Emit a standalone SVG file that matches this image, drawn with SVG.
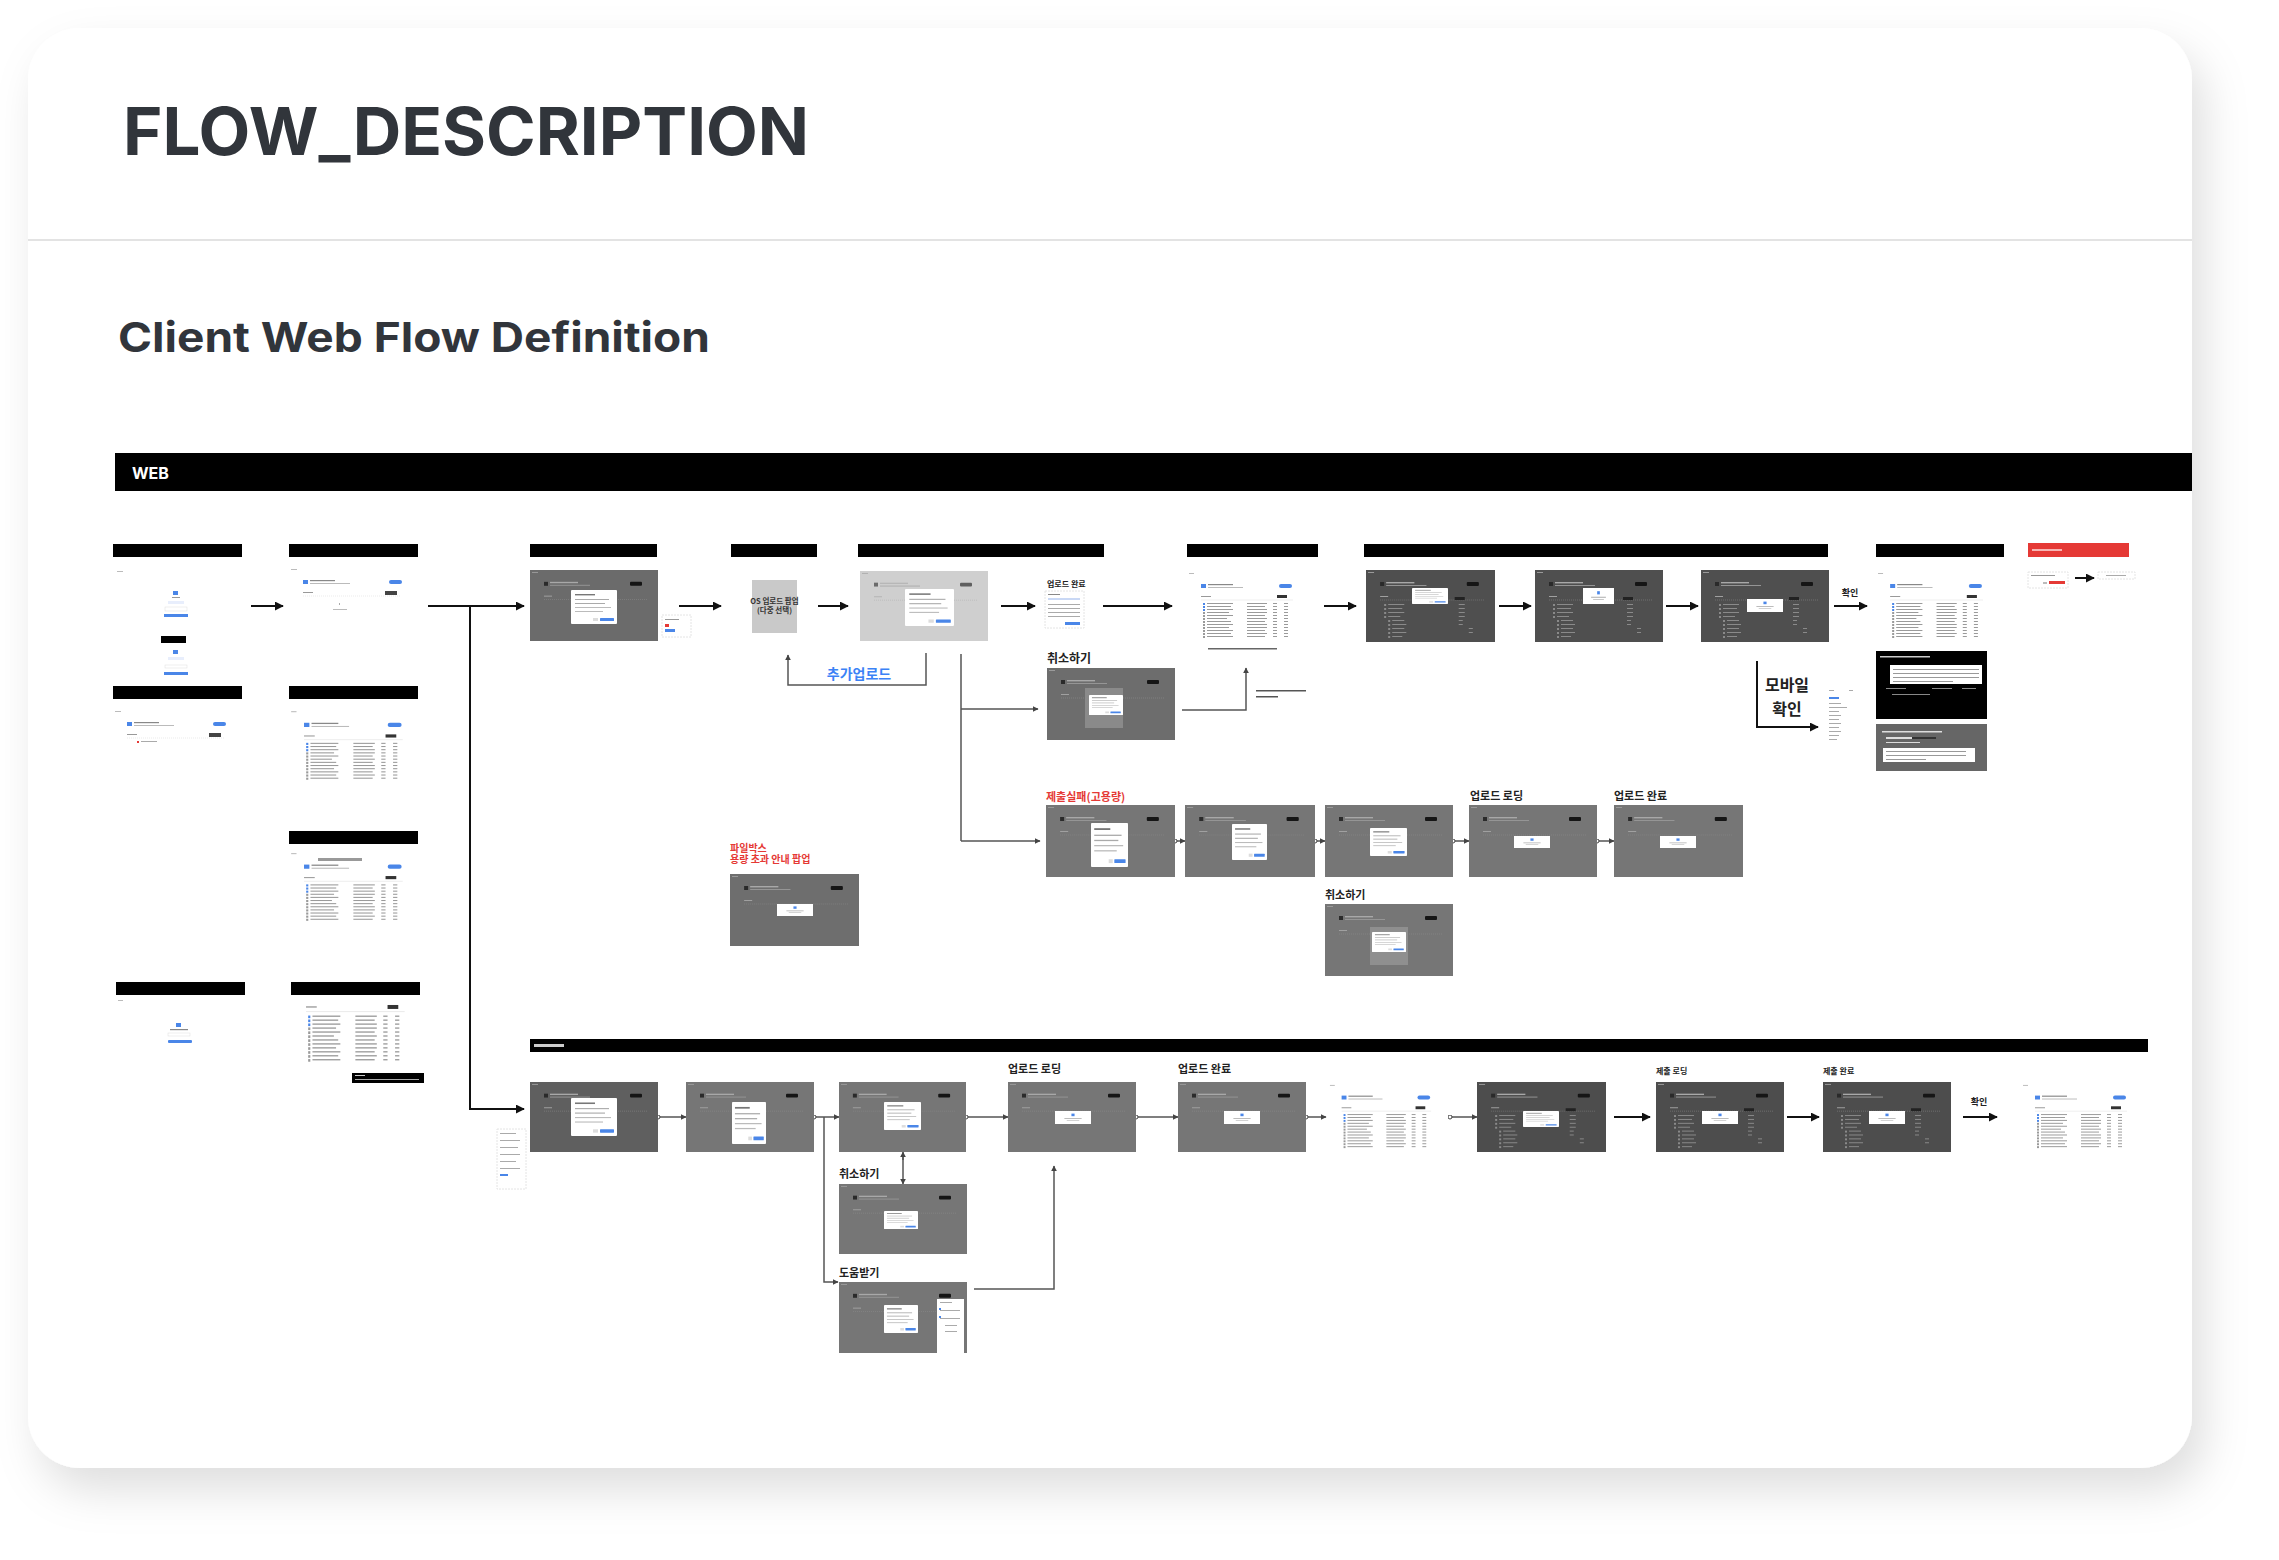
<svg xmlns="http://www.w3.org/2000/svg" xmlns:xlink="http://www.w3.org/1999/xlink" width="2279" height="1560" viewBox="0 0 2279 1560">
<style>
.bar{fill:#000}
.t{font-family:Inter,"Noto Sans CJK KR",sans-serif;font-weight:700;fill:#222}
.kr{font-family:"Noto Sans CJK KR",Inter,sans-serif;font-weight:700;fill:#222}
.red{fill:#e53935}
.conn{stroke:#111;stroke-width:2;fill:none}
.thin{stroke:#555;stroke-width:1.5;fill:none}
.gray{fill:#767676}
.mid{fill:#6b6b6b}
.dark{fill:#4f4f4f}
.wcard{fill:#fff;stroke:#e4e4e4;stroke-width:1;stroke-dasharray:2 1}
</style>
<defs>
<filter id="sh" x="-5%" y="-5%" width="112%" height="115%">
<feDropShadow dx="12" dy="22" stdDeviation="22" flood-color="#000" flood-opacity="0.13"/>
</filter>
<marker id="ah" viewBox="0 0 10 10" refX="9" refY="5" markerWidth="9" markerHeight="9" markerUnits="userSpaceOnUse" orient="auto"><path d="M0 0L10 5L0 10z" fill="#111"/></marker>
<marker id="ahs" viewBox="0 0 10 10" refX="9" refY="5" markerWidth="6" markerHeight="6" markerUnits="userSpaceOnUse" orient="auto"><path d="M0 0L10 5L0 10z" fill="#444"/></marker>
<marker id="dot" viewBox="0 0 10 10" refX="5" refY="5" markerWidth="5" markerHeight="5" markerUnits="userSpaceOnUse"><circle cx="5" cy="5" r="4" fill="#fff" stroke="#444" stroke-width="2"/></marker>
<symbol id="hdr" viewBox="0 0 128 72" preserveAspectRatio="none">
<rect x="2" y="2" width="6" height="1" fill="#9a9a9a"/>
<rect x="14" y="12" width="4" height="4" fill="#2a2a2a"/>
<rect x="20" y="12" width="28" height="1.4" fill="#a8a8a8"/>
<rect x="20" y="15" width="40" height="1" fill="#959595"/>
<rect x="100" y="12" width="12" height="4" rx="1" fill="#151515"/>
<rect x="14" y="26" width="8" height="1" fill="#a0a0a0"/>
<line x1="14" y1="30" x2="118" y2="30" stroke="#909090" stroke-width="0.5" stroke-dasharray="1 1"/>
</symbol>
<symbol id="rows" viewBox="0 0 128 72" preserveAspectRatio="none">
<g fill="#8a8a8a">
<rect x="18" y="34" width="2" height="2"/><rect x="22" y="34" width="16" height="1"/><rect x="92" y="34" width="6" height="1"/>
<rect x="18" y="38" width="2" height="2"/><rect x="22" y="38" width="14" height="1"/><rect x="92" y="38" width="6" height="1"/>
<rect x="18" y="42" width="2" height="2"/><rect x="22" y="42" width="16" height="1"/><rect x="92" y="42" width="6" height="1"/>
<rect x="18" y="46" width="2" height="2"/><rect x="22" y="46" width="12" height="1"/><rect x="92" y="46" width="6" height="1"/>
<rect x="22" y="50" width="2" height="2"/><rect x="26" y="50" width="12" height="1"/><rect x="92" y="50" width="4" height="1"/>
<rect x="22" y="54" width="2" height="2"/><rect x="26" y="54" width="14" height="1"/><rect x="92" y="54" width="4" height="1"/>
<rect x="22" y="58" width="2" height="2"/><rect x="26" y="58" width="12" height="1"/><rect x="102" y="58" width="4" height="1"/>
<rect x="22" y="62" width="2" height="2"/><rect x="26" y="62" width="14" height="1"/><rect x="102" y="62" width="4" height="1"/>
<rect x="22" y="66" width="2" height="2"/><rect x="26" y="66" width="10" height="1"/>
<rect x="88" y="27" width="10" height="3" fill="#222"/>
</g>
</symbol>
<symbol id="modal" viewBox="0 0 46 34" preserveAspectRatio="none">
<rect x="0" y="0" width="46" height="34" rx="1" fill="#fff"/>
<rect x="4" y="4" width="20" height="1.4" fill="#777"/>
<rect x="4" y="9" width="34" height="1" fill="#aaa"/>
<rect x="4" y="13" width="30" height="1" fill="#aaa"/>
<rect x="4" y="17" width="36" height="1" fill="#bbb"/>
<rect x="4" y="21" width="28" height="1" fill="#bbb"/>
<rect x="22" y="28" width="5" height="3" fill="#ddd"/>
<rect x="29" y="28" width="14" height="3" rx="0.5" fill="#4a86e8"/>
</symbol>
<symbol id="mini" viewBox="0 0 46 20" preserveAspectRatio="none">
<rect x="0" y="0" width="46" height="20" fill="#fff"/>
<rect x="21" y="4" width="4" height="4" fill="#4a86e8"/>
<rect x="12" y="11" width="22" height="1" fill="#999"/>
<rect x="15" y="14" width="16" height="1" fill="#bbb"/>
</symbol>
<symbol id="wlist" viewBox="0 0 110 72" preserveAspectRatio="none">
<rect x="0" y="0" width="110" height="72" fill="#fff"/>
<rect x="2" y="3" width="5" height="1" fill="#bbb"/>
<rect x="14" y="14" width="5" height="4" fill="#4a86e8"/>
<rect x="21" y="14" width="25" height="1.2" fill="#888"/>
<rect x="21" y="17" width="35" height="1" fill="#bbb"/>
<rect x="92" y="14" width="13" height="4" rx="2" fill="#4a86e8"/>
<rect x="14" y="26" width="10" height="1" fill="#999"/>
<rect x="90" y="25" width="10" height="3" fill="#333"/>
<line x1="14" y1="30" x2="106" y2="30" stroke="#ddd" stroke-width="0.5"/>
<g fill="#9a9a9a">
<rect x="16" y="33" width="2" height="2" fill="#4a86e8"/><rect x="20" y="33" width="26" height="1"/><rect x="60" y="33" width="20" height="1"/><rect x="86" y="33" width="4" height="1"/><rect x="97" y="33" width="4" height="1"/>
<rect x="16" y="36" width="2" height="2" fill="#4a86e8"/><rect x="20" y="36" width="24" height="1"/><rect x="60" y="36" width="18" height="1"/><rect x="86" y="36" width="4" height="1"/><rect x="97" y="36" width="4" height="1"/>
<rect x="16" y="39" width="2" height="2" fill="#4a86e8"/><rect x="20" y="39" width="26" height="1"/><rect x="60" y="39" width="20" height="1"/><rect x="86" y="39" width="4" height="1"/><rect x="97" y="39" width="4" height="1"/>
<rect x="16" y="42" width="2" height="2"/><rect x="20" y="42" width="22" height="1"/><rect x="60" y="42" width="20" height="1"/><rect x="86" y="42" width="4" height="1"/><rect x="97" y="42" width="4" height="1"/>
<rect x="16" y="45" width="2" height="2"/><rect x="20" y="45" width="26" height="1"/><rect x="60" y="45" width="18" height="1"/><rect x="86" y="45" width="4" height="1"/><rect x="97" y="45" width="4" height="1"/>
<rect x="16" y="48" width="2" height="2"/><rect x="20" y="48" width="20" height="1"/><rect x="60" y="48" width="20" height="1"/><rect x="86" y="48" width="4" height="1"/><rect x="97" y="48" width="4" height="1"/>
<rect x="16" y="51" width="2" height="2"/><rect x="20" y="51" width="24" height="1"/><rect x="60" y="51" width="18" height="1"/><rect x="86" y="51" width="4" height="1"/><rect x="97" y="51" width="4" height="1"/>
<rect x="16" y="54" width="2" height="2"/><rect x="20" y="54" width="26" height="1"/><rect x="60" y="54" width="20" height="1"/><rect x="86" y="54" width="4" height="1"/><rect x="97" y="54" width="4" height="1"/>
<rect x="16" y="57" width="2" height="2"/><rect x="20" y="57" width="22" height="1"/><rect x="60" y="57" width="20" height="1"/><rect x="86" y="57" width="4" height="1"/><rect x="97" y="57" width="4" height="1"/>
<rect x="16" y="60" width="2" height="2"/><rect x="20" y="60" width="26" height="1"/><rect x="60" y="60" width="18" height="1"/><rect x="86" y="60" width="4" height="1"/><rect x="97" y="60" width="4" height="1"/>
<rect x="16" y="63" width="2" height="2"/><rect x="20" y="63" width="24" height="1"/><rect x="60" y="63" width="20" height="1"/><rect x="86" y="63" width="4" height="1"/><rect x="97" y="63" width="4" height="1"/>
<rect x="16" y="66" width="2" height="2"/><rect x="20" y="66" width="26" height="1"/><rect x="60" y="66" width="18" height="1"/><rect x="86" y="66" width="4" height="1"/><rect x="97" y="66" width="4" height="1"/>
</g>
</symbol>
<symbol id="whdr" viewBox="0 0 128 60" preserveAspectRatio="none">
<rect x="2" y="3" width="6" height="1" fill="#bbb"/>
<rect x="14" y="14" width="5" height="4" fill="#4a86e8"/>
<rect x="21" y="14" width="25" height="1.2" fill="#888"/>
<rect x="21" y="17" width="40" height="1" fill="#bbb"/>
<rect x="100" y="14" width="13" height="4" rx="2" fill="#4a86e8"/>
<rect x="14" y="26" width="10" height="1" fill="#999"/>
<rect x="96" y="25" width="12" height="4" fill="#444"/>
<line x1="14" y1="30" x2="112" y2="30" stroke="#ddd" stroke-width="0.6" stroke-dasharray="1 1"/>
</symbol>
</defs>

<rect width="2279" height="1560" fill="#fff"/>
<rect x="28" y="28" width="2164" height="1440" rx="52" fill="#fff" filter="url(#sh)"/>

<text x="123" y="155" font-family="Inter, 'Noto Sans', sans-serif" font-weight="700" font-size="66" fill="#31353b" textLength="686" lengthAdjust="spacingAndGlyphs">FLOW_DESCRIPTION</text>
<line x1="28" y1="240" x2="2192" y2="240" stroke="#e3e3e3" stroke-width="2"/>
<text x="118" y="352" font-family="Inter, 'Noto Sans', sans-serif" font-weight="700" font-size="41" fill="#31353b" textLength="592" lengthAdjust="spacingAndGlyphs">Client Web Flow Definition</text>
<rect x="115" y="453" width="2077" height="38" fill="#000"/>
<text x="132" y="479" font-family="Inter, sans-serif" font-weight="700" font-size="16" fill="#fff">WEB</text>

<g id="connectors">
<line class="conn" x1="251" y1="606" x2="283" y2="606" marker-end="url(#ah)"/>
<polyline class="conn" points="428,606 470,606 524,606" marker-end="url(#ah)"/>
<polyline class="conn" points="470,606 470,1109 524,1109" marker-end="url(#ah)"/>
<line class="conn" x1="679" y1="606" x2="721" y2="606" marker-end="url(#ah)"/>
<line class="conn" x1="818" y1="606" x2="848" y2="606" marker-end="url(#ah)"/>
<polyline class="thin" points="926,653 926,685 788,685 788,655" marker-end="url(#ahs)"/>
<line class="thin" x1="961" y1="654" x2="961" y2="841"/>
<line class="thin" x1="961" y1="709" x2="1038" y2="709" marker-end="url(#ahs)"/>
<line class="thin" x1="961" y1="841" x2="1040" y2="841" marker-end="url(#ahs)"/>
<line class="conn" x1="1001" y1="606" x2="1035" y2="606" marker-end="url(#ah)"/>
<line class="conn" x1="1103" y1="606" x2="1172" y2="606" marker-end="url(#ah)"/>
<polyline class="thin" points="1182,710 1246,710 1246,668" marker-end="url(#ahs)"/>
<line class="conn" x1="1324" y1="606" x2="1356" y2="606" marker-end="url(#ah)"/>
<line class="conn" x1="1499" y1="606" x2="1531" y2="606" marker-end="url(#ah)"/>
<line class="conn" x1="1666" y1="606" x2="1698" y2="606" marker-end="url(#ah)"/>
<line class="conn" x1="1834" y1="606" x2="1867" y2="606" marker-end="url(#ah)"/>
<line class="conn" x1="2075" y1="578" x2="2094" y2="578" marker-end="url(#ah)"/>
<polyline class="conn" points="1757,661 1757,727 1818,727" marker-end="url(#ah)"/>
<line class="thin" x1="1175" y1="841" x2="1185" y2="841" marker-start="url(#dot)" marker-end="url(#ahs)"/>
<line class="thin" x1="1315" y1="841" x2="1325" y2="841" marker-start="url(#dot)" marker-end="url(#ahs)"/>
<line class="thin" x1="1453" y1="841" x2="1469" y2="841" marker-start="url(#dot)" marker-end="url(#ahs)"/>
<line class="thin" x1="1597" y1="841" x2="1614" y2="841" marker-start="url(#dot)" marker-end="url(#ahs)"/>
<line class="thin" x1="658" y1="1117" x2="686" y2="1117" marker-start="url(#dot)" marker-end="url(#ahs)"/>
<line class="thin" x1="814" y1="1117" x2="839" y2="1117" marker-start="url(#dot)" marker-end="url(#ahs)"/>
<line class="thin" x1="966" y1="1117" x2="1008" y2="1117" marker-start="url(#dot)" marker-end="url(#ahs)"/>
<line class="thin" x1="1136" y1="1117" x2="1178" y2="1117" marker-start="url(#dot)" marker-end="url(#ahs)"/>
<line class="thin" x1="1306" y1="1117" x2="1326" y2="1117" marker-start="url(#dot)" marker-end="url(#ahs)"/>
<line class="thin" x1="1450" y1="1117" x2="1477" y2="1117" marker-start="url(#dot)" marker-end="url(#ahs)"/>
<line class="thin" x1="903" y1="1154" x2="903" y2="1184" marker-end="url(#ahs)"/>
<line class="thin" x1="903" y1="1160" x2="903" y2="1152" marker-end="url(#ahs)"/>
<polyline class="thin" points="824,1117 824,1282 838,1282" marker-end="url(#ahs)"/>
<polyline class="thin" points="974,1289 1054,1289 1054,1166" marker-end="url(#ahs)"/>
<line class="conn" x1="1614" y1="1117" x2="1650" y2="1117" marker-end="url(#ah)"/>
<line class="conn" x1="1787" y1="1117" x2="1819" y2="1117" marker-end="url(#ah)"/>
<line class="conn" x1="1963" y1="1117" x2="1997" y2="1117" marker-end="url(#ah)"/>
</g>

<g id="n-entry">
<rect class="bar" x="113" y="544" width="129" height="13"/>
<rect x="117" y="571" width="6" height="1" fill="#bbb"/>
<rect x="173" y="591" width="5" height="4" fill="#4a86e8"/>
<rect x="172" y="597" width="8" height="1" fill="#999"/>
<rect x="168" y="601" width="16" height="3" fill="#e8eefc"/>
<rect x="165" y="607" width="22" height="4" fill="#fff" stroke="#ddd" stroke-width="0.5"/>
<rect x="164" y="614" width="24" height="3" fill="#4a86e8"/>
<rect x="161" y="636" width="25" height="7" fill="#000"/>
<rect x="173" y="650" width="5" height="4" fill="#4a86e8"/>
<rect x="168" y="657" width="16" height="3" fill="#e8eefc"/>
<rect x="165" y="665" width="22" height="3" fill="#fff" stroke="#ddd" stroke-width="0.5"/>
<rect x="164" y="672" width="24" height="3" fill="#4a86e8"/>
</g>
<g id="n-entry-nofile">
<rect class="bar" x="289" y="544" width="129" height="13"/>
<use href="#whdr" x="289" y="566" width="128" height="60"/>
<rect x="339" y="603" width="1" height="2" fill="#aaa"/>
<rect x="333" y="609" width="14" height="1" fill="#bbb"/>
</g>
<g id="n-selected">
<rect class="bar" x="113" y="686" width="129" height="13"/>
<use href="#whdr" x="113" y="708" width="128" height="60"/>
<rect x="137" y="741" width="2" height="2" fill="#e53935"/>
<rect x="141" y="741" width="16" height="1" fill="#aaa"/>
</g>
<g id="n-filebox">
<rect class="bar" x="289" y="686" width="129" height="13"/>
<use href="#wlist" x="289" y="708" width="118" height="76"/>
</g>
<g id="n-filebox-over">
<rect class="bar" x="289" y="831" width="129" height="13"/>
<use href="#wlist" x="289" y="850" width="118" height="75"/>
<rect x="318" y="858" width="44" height="3" fill="#999"/>
</g>
<g id="n-empty">
<rect class="bar" x="116" y="982" width="129" height="13"/>
<rect x="118" y="1000" width="5" height="1" fill="#bbb"/>
<rect x="176" y="1023" width="5" height="4" fill="#4a86e8"/>
<rect x="170" y="1029" width="18" height="1.2" fill="#888"/>
<rect x="168" y="1033" width="22" height="3" fill="#fff" stroke="#ddd" stroke-width="0.5"/>
<rect x="168" y="1040" width="24" height="3" rx="1" fill="#4a86e8"/>
</g>
<g id="n-scroll">
<use href="#wlist" x="291" y="972" width="118" height="95"/>
<rect x="291" y="972" width="118" height="26" fill="#fff"/>
<rect class="bar" x="291" y="982" width="129" height="13"/>
<rect x="352" y="1073" width="72" height="10" fill="#000"/>
<rect x="355" y="1075" width="10" height="1" fill="#ccc"/>
<rect x="355" y="1079" width="64" height="1" fill="#aaa"/>
</g>

<g id="n-upload-select">
<rect class="bar" x="530" y="544" width="127" height="13"/>
<rect class="mid" x="530" y="570" width="128" height="71"/>
<use href="#hdr" x="530" y="570" width="128" height="71"/>
<use href="#modal" x="571" y="590" width="46" height="34"/>
<rect x="662" y="615" width="29" height="22" class="wcard"/>
<rect x="665" y="619" width="14" height="1" fill="#999"/>
<rect x="665" y="624" width="4" height="3" fill="#e53935"/>
<rect x="665" y="629" width="10" height="3" fill="#4a86e8"/>
</g>
<g id="n-os-popup">
<rect class="bar" x="731" y="544" width="86" height="13"/>
<rect x="752" y="580" width="45" height="53" fill="#c9c9c9"/>
<text class="kr" x="774.5" y="604" font-size="7.5" text-anchor="middle" style="fill:#333">OS 업로드 팝업<tspan x="774.5" dy="9">(다중 선택)</tspan></text>
</g>
<g id="n-upload-screen">
<rect class="bar" x="858" y="544" width="246" height="13"/>
<rect x="860" y="571" width="128" height="70" fill="#cfcfcf"/>
<use href="#hdr" x="860" y="571" width="128" height="70" opacity="0.6"/>
<use href="#modal" x="905" y="589" width="49" height="37"/>
<text x="859" y="679" font-family="'Noto Sans CJK KR', sans-serif" font-weight="700" font-size="14" fill="#3b82f6" text-anchor="middle">추가업로드</text>
</g>
<g id="n-upload-done">
<text class="kr" x="1047" y="587" font-size="8">업로드 완료</text>
<rect x="1045" y="591" width="39" height="37" class="wcard"/>
<rect x="1048" y="594" width="12" height="1" fill="#888"/>
<rect x="1048" y="598" width="32" height="2" fill="#c9d8f5"/>
<rect x="1048" y="604" width="32" height="1" fill="#aaa"/>
<rect x="1048" y="608" width="32" height="1" fill="#aaa"/>
<rect x="1048" y="612" width="32" height="1" fill="#aaa"/>
<rect x="1048" y="616" width="32" height="1" fill="#aaa"/>
<rect x="1065" y="622" width="15" height="3" fill="#4a86e8"/>
</g>
<g id="n-cancel-1">
<text class="kr" x="1047" y="663" font-size="12">취소하기</text>
<rect x="1047" y="668" width="128" height="72" fill="#6d6d6d"/>
<use href="#hdr" x="1047" y="668" width="128" height="72"/>
<rect x="1085" y="688" width="38" height="40" fill="#8a8a8a"/>
<use href="#modal" x="1089" y="695" width="34" height="20"/>
<rect x="1256" y="690" width="50" height="1.5" fill="#555"/>
<rect x="1256" y="696" width="22" height="1.5" fill="#555"/>
</g>
<g id="n-after-upload">
<rect class="bar" x="1187" y="544" width="131" height="13"/>
<use href="#wlist" x="1187" y="570" width="110" height="72"/>
<rect x="1208" y="648" width="69" height="1.5" fill="#666"/>
</g>
<g id="n-submit">
<rect class="bar" x="1364" y="544" width="464" height="13"/>
<rect class="dark" x="1366" y="570" width="129" height="72"/>
<use href="#hdr" x="1366" y="570" width="129" height="72"/>
<use href="#rows" x="1366" y="570" width="129" height="72"/>
<use href="#modal" x="1412" y="588" width="36" height="16"/>
<rect class="dark" x="1535" y="570" width="128" height="72"/>
<use href="#hdr" x="1535" y="570" width="128" height="72"/>
<use href="#rows" x="1535" y="570" width="128" height="72"/>
<use href="#mini" x="1583" y="588" width="31" height="16"/>
<rect class="dark" x="1701" y="570" width="128" height="72"/>
<use href="#hdr" x="1701" y="570" width="128" height="72"/>
<use href="#rows" x="1701" y="570" width="128" height="72"/>
<use href="#mini" x="1747" y="599" width="36" height="13"/>
<text class="kr" x="1850" y="596" font-size="9" text-anchor="middle">확인</text>
</g>
<g id="n-submitted">
<rect class="bar" x="1876" y="544" width="128" height="13"/>
<use href="#wlist" x="1876" y="570" width="111" height="72"/>
<rect x="1876" y="651" width="111" height="68" fill="#000"/>
<rect x="1880" y="656" width="50" height="1.5" fill="#ccc"/>
<rect x="1890" y="665" width="92" height="19" fill="#fff"/>
<rect x="1893" y="669" width="86" height="1" fill="#999"/>
<rect x="1893" y="673" width="86" height="1" fill="#999"/>
<rect x="1893" y="677" width="86" height="1" fill="#999"/>
<rect x="1893" y="681" width="60" height="1" fill="#999"/>
<rect x="1886" y="688" width="20" height="1" fill="#888"/>
<rect x="1932" y="688" width="20" height="1" fill="#888"/>
<rect x="1962" y="688" width="14" height="1" fill="#888"/>
<rect x="1892" y="694" width="38" height="1" fill="#888"/>
<rect x="1876" y="724" width="111" height="47" fill="#666"/>
<rect x="1882" y="731" width="60" height="1.5" fill="#ddd"/>
<rect x="1886" y="737" width="26" height="2" fill="#ddd"/>
<rect x="1912" y="737" width="24" height="2" fill="#333"/>
<rect x="1886" y="742" width="34" height="1" fill="#ddd"/>
<rect x="1883" y="748" width="92" height="14" fill="#fff"/>
<rect x="1886" y="751" width="80" height="1" fill="#999"/>
<rect x="1886" y="755" width="80" height="1" fill="#999"/>
<rect x="1886" y="759" width="40" height="1" fill="#999"/>
</g>
<g id="n-leave">
<rect x="2028" y="543" width="101" height="14" fill="#e53935"/>
<rect x="2032" y="549" width="30" height="2" fill="#f7b5b3"/>
<rect x="2028" y="572" width="40" height="16" class="wcard"/>
<rect x="2031" y="575" width="24" height="1" fill="#999"/>
<rect x="2043" y="582" width="4" height="2" fill="#bbb"/>
<rect x="2049" y="581" width="16" height="3" fill="#e53935"/>
<rect x="2098" y="572" width="37" height="7" class="wcard"/>
<rect x="2106" y="575" width="20" height="1" fill="#aaa"/>
</g>
<g id="n-mobile">
<text class="kr" x="1787" y="691" font-size="16" text-anchor="middle">모바일<tspan x="1787" dy="24">확인</tspan></text>
<rect x="1827" y="688" width="28" height="60" fill="#fff"/>
<rect x="1829" y="690" width="5" height="1" fill="#aaa"/>
<rect x="1849" y="690" width="4" height="1" fill="#aaa"/>
<rect x="1829" y="697" width="10" height="2" fill="#4a86e8"/>
<g fill="#aaa"><rect x="1829" y="703" width="12" height="1"/><rect x="1829" y="707" width="18" height="1"/><rect x="1829" y="711" width="10" height="1"/><rect x="1829" y="715" width="12" height="1"/><rect x="1829" y="719" width="10" height="1"/><rect x="1829" y="723" width="12" height="1"/><rect x="1829" y="727" width="10" height="1"/><rect x="1829" y="731" width="12" height="1"/><rect x="1829" y="735" width="10" height="1"/><rect x="1829" y="739" width="8" height="1"/></g>
</g>

<g id="n-fail-large">
<text class="kr red" x="1046" y="801" font-size="11">제출실패(고용량)</text>
<rect class="gray" x="1046" y="805" width="129" height="72"/>
<use href="#hdr" x="1046" y="805" width="129" height="72"/>
<use href="#modal" x="1091" y="823" width="37" height="44"/>
<rect class="gray" x="1185" y="805" width="130" height="72"/>
<use href="#hdr" x="1185" y="805" width="130" height="72"/>
<use href="#modal" x="1232" y="824" width="35" height="36"/>
<rect class="gray" x="1325" y="805" width="128" height="72"/>
<use href="#hdr" x="1325" y="805" width="128" height="72"/>
<use href="#modal" x="1370" y="828" width="37" height="28"/>
</g>
<g id="n-loading-1">
<text class="kr" x="1470" y="800" font-size="11">업로드 로딩</text>
<rect class="gray" x="1469" y="805" width="128" height="72"/>
<use href="#hdr" x="1469" y="805" width="128" height="72"/>
<use href="#mini" x="1514" y="836" width="36" height="12"/>
</g>
<g id="n-done-1">
<text class="kr" x="1614" y="800" font-size="11">업로드 완료</text>
<rect class="gray" x="1614" y="805" width="129" height="72"/>
<use href="#hdr" x="1614" y="805" width="129" height="72"/>
<use href="#mini" x="1660" y="836" width="36" height="12"/>
</g>
<g id="n-cancel-2">
<text class="kr" x="1325" y="899" font-size="11">취소하기</text>
<rect class="gray" x="1325" y="904" width="128" height="72"/>
<use href="#hdr" x="1325" y="904" width="128" height="72"/>
<rect x="1370" y="927" width="38" height="38" fill="#8f8f8f"/>
<use href="#modal" x="1372" y="932" width="34" height="20"/>
</g>
<g id="n-capacity-popup">
<text class="kr red" x="730" y="852" font-size="10">파일박스<tspan x="730" dy="11">용량 초과 안내 팝업</tspan></text>
<rect x="730" y="874" width="129" height="72" fill="#6e6e6e"/>
<use href="#hdr" x="730" y="874" width="129" height="72"/>
<use href="#mini" x="777" y="904" width="36" height="12"/>
</g>

<g id="n-mobile-bar">
<rect class="bar" x="530" y="1039" width="1618" height="13"/>
<rect x="534" y="1044" width="30" height="3" fill="#ccc"/>
</g>
<g id="n-note">
<rect x="497" y="1129" width="29" height="60" class="wcard"/>
<g fill="#aaa"><rect x="500" y="1133" width="16" height="1"/><rect x="500" y="1140" width="20" height="1"/><rect x="500" y="1147" width="18" height="1"/><rect x="500" y="1154" width="20" height="1"/><rect x="500" y="1161" width="16" height="1"/><rect x="500" y="1168" width="20" height="1"/></g>
<rect x="500" y="1174" width="8" height="2" fill="#4a86e8"/>
</g>
<g id="n-m1">
<rect x="530" y="1082" width="128" height="70" fill="#5f5f5f"/>
<use href="#hdr" x="530" y="1082" width="128" height="70"/>
<use href="#modal" x="571" y="1098" width="46" height="38"/>
</g>
<g id="n-m2">
<rect class="gray" x="686" y="1082" width="128" height="70"/>
<use href="#hdr" x="686" y="1082" width="128" height="70"/>
<use href="#modal" x="732" y="1102" width="34" height="42"/>
</g>
<g id="n-m3">
<rect class="gray" x="839" y="1082" width="127" height="70"/>
<use href="#hdr" x="839" y="1082" width="127" height="70"/>
<use href="#modal" x="884" y="1102" width="37" height="28"/>
</g>
<g id="n-m-loading">
<text class="kr" x="1008" y="1073" font-size="11">업로드 로딩</text>
<rect class="gray" x="1008" y="1082" width="128" height="70"/>
<use href="#hdr" x="1008" y="1082" width="128" height="70"/>
<use href="#mini" x="1055" y="1111" width="36" height="13"/>
</g>
<g id="n-m-done">
<text class="kr" x="1178" y="1073" font-size="11">업로드 완료</text>
<rect class="gray" x="1178" y="1082" width="128" height="70"/>
<use href="#hdr" x="1178" y="1082" width="128" height="70"/>
<use href="#mini" x="1224" y="1111" width="36" height="13"/>
</g>
<g id="n-m-cancel">
<text class="kr" x="839" y="1178" font-size="11">취소하기</text>
<rect class="gray" x="839" y="1184" width="128" height="70"/>
<use href="#hdr" x="839" y="1184" width="128" height="70"/>
<use href="#modal" x="884" y="1211" width="34" height="18"/>
</g>
<g id="n-m-help">
<text class="kr" x="839" y="1277" font-size="11">도움받기</text>
<rect class="gray" x="839" y="1282" width="128" height="71"/>
<use href="#hdr" x="839" y="1282" width="128" height="71"/>
<use href="#modal" x="884" y="1305" width="34" height="28"/>
<rect x="937" y="1299" width="27" height="54" fill="#fff"/>
<g fill="#aaa"><rect x="940" y="1302" width="12" height="1"/><rect x="940" y="1310" width="20" height="1"/><rect x="940" y="1318" width="20" height="1"/><rect x="945" y="1325" width="12" height="1"/><rect x="945" y="1331" width="12" height="1"/></g>
<rect x="939" y="1308" width="2" height="2" fill="#4a86e8"/><rect x="939" y="1316" width="2" height="2" fill="#4a86e8"/>
</g>
<g id="n-m-list">
<use href="#wlist" x="1328" y="1082" width="107" height="70"/>
</g>
<g id="n-m-submit">
<rect x="1477" y="1082" width="129" height="70" fill="#4d4d4d"/>
<use href="#hdr" x="1477" y="1082" width="129" height="70"/>
<use href="#rows" x="1477" y="1082" width="129" height="70"/>
<use href="#modal" x="1523" y="1111" width="36" height="16"/>
</g>
<g id="n-m-sub-loading">
<text class="kr" x="1656" y="1074" font-size="8">제출 로딩</text>
<rect x="1656" y="1082" width="128" height="70" fill="#4d4d4d"/>
<use href="#hdr" x="1656" y="1082" width="128" height="70"/>
<use href="#rows" x="1656" y="1082" width="128" height="70"/>
<use href="#mini" x="1702" y="1111" width="36" height="13"/>
</g>
<g id="n-m-sub-done">
<text class="kr" x="1823" y="1074" font-size="8">제출 완료</text>
<rect x="1823" y="1082" width="128" height="70" fill="#4d4d4d"/>
<use href="#hdr" x="1823" y="1082" width="128" height="70"/>
<use href="#rows" x="1823" y="1082" width="128" height="70"/>
<use href="#mini" x="1869" y="1111" width="36" height="13"/>
<text class="kr" x="1979" y="1105" font-size="9" text-anchor="middle">확인</text>
</g>
<g id="n-m-final">
<use href="#wlist" x="2021" y="1082" width="110" height="70"/>
</g>
</svg>
